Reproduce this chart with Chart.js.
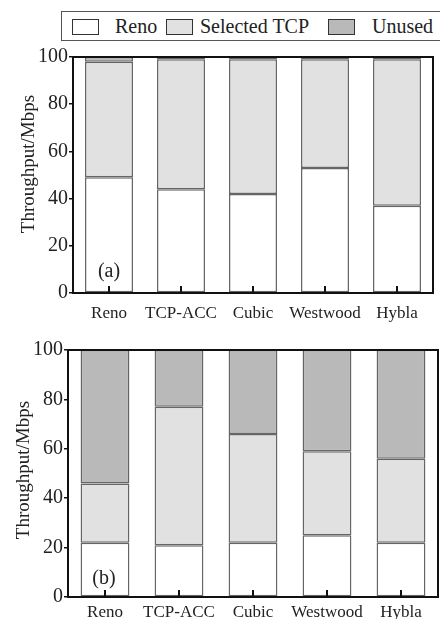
<!DOCTYPE html>
<html>
<head>
<meta charset="utf-8">
<script src="https://cdn.jsdelivr.net/npm/chart.js@4.4.1/dist/chart.umd.min.js"></script>
<style>
  body { margin: 0; background: #fff; font-family: "Liberation Serif", "Times New Roman", Times, "DejaVu Serif", serif; color: #222; }
  #wrap { position: relative; width: 440px; height: 619px; overflow: hidden; }
  canvas { position: absolute; left: 0; }
  #legend { position: absolute; left: 61px; top: 11px; width: 400px; height: 28px; border: 1.5px solid #555; }
  .sw { position: absolute; top: 7px; width: 25px; height: 14px; border: 1px solid #333; }
  .lt { position: absolute; top: 2px; font-size: 20px; line-height: 24px; }
  .panel { position: absolute; font-size: 20px; line-height: 24px; transform: translate(-50%, -50%); }
  .ytitle { position: absolute; font-size: 19px; line-height: 24px; white-space: nowrap; transform: translate(-50%, -50%) rotate(-90deg); }
</style>
</head>
<body>
<div id="wrap">
  <canvas id="chartA" width="440" height="280" style="top:44px"></canvas>
  <canvas id="chartB" width="440" height="289" style="top:330px"></canvas>
  <div id="legend">
    <div class="sw" style="left:10px;background:#fff"></div><div class="lt" style="left:53px">Reno</div>
    <div class="sw" style="left:104px;background:#e1e1e1"></div><div class="lt" style="left:138px">Selected TCP</div>
    <div class="sw" style="left:266px;background:#b9b9b9"></div><div class="lt" style="left:310px">Unused</div>
  </div>
  <div class="ytitle" style="left:28px;top:164px">Throughput/Mbps</div>
  <div class="ytitle" style="left:23px;top:470px">Throughput/Mbps</div>
  <div class="panel" style="left:109px;top:270px">(a)</div>
  <div class="panel" style="left:104px;top:577px">(b)</div>
</div>
<script>
const categories = ['Reno', 'TCP-ACC', 'Cubic', 'Westwood', 'Hybla'];
const yTicks = [0, 20, 40, 60, 80, 100];

// (a)
const renoA = [49, 44, 42, 53, 37];
const selectedA = [49, 55, 57, 46, 62];
const unusedA = [2, 1, 1, 1, 1];

// (b)
const renoB = [22, 21, 22, 25, 22];
const selectedB = [24, 56, 44, 34, 34];
const unusedB = [54, 23, 34, 41, 44];

Chart.defaults.font.family = '"Liberation Serif", "Times New Roman", Times, "DejaVu Serif", serif';
Chart.defaults.color = '#222';

// frame around plot area + short inward ticks on the x axis
const framePlugin = {
    id: 'frame',
    afterDraw(chart) {
        const ctx = chart.ctx;
        const a = chart.chartArea;
        const x = chart.scales.x;
        ctx.save();
        ctx.strokeStyle = '#111';
        ctx.lineWidth = 2;
        ctx.strokeRect(a.left, a.top, a.right - a.left, a.bottom - a.top);
        categories.forEach((c, i) => {
            const px = Math.round(x.getPixelForTick(i));
            ctx.beginPath();
            ctx.moveTo(px, a.bottom);
            ctx.lineTo(px, a.bottom - 7);
            ctx.stroke();
        });
        ctx.restore();
    }
};

function makeChart(id, reno, selected, unused, opt) {
    const ds = (label, data, color) => ({
        label: label,
        data: data,
        backgroundColor: color,
        borderColor: '#666',
        borderWidth: 1.5,
        borderSkipped: false,
        barPercentage: opt.barPct,
        categoryPercentage: 1
    });
    return new Chart(document.getElementById(id), {
        type: 'bar',
        data: {
            labels: categories,
            datasets: [
                ds('Reno', reno, '#ffffff'),
                ds('Selected TCP', selected, '#e1e1e1'),
                ds('Unused', unused, '#b9b9b9')
            ]
        },
        options: {
            responsive: false,
            animation: false,
            layout: { padding: { top: opt.top, right: opt.right, left: 0, bottom: 0 } },
            plugins: { legend: { display: false }, tooltip: { enabled: false } },
            scales: {
                x: {
                    stacked: true,
                    grid: { display: false, drawTicks: false },
                    border: { display: false },
                    ticks: { font: { size: 17 }, padding: opt.xPad, maxRotation: 0, autoSkip: false },
                    afterFit(scale) { scale.height = opt.xHeight; }
                },
                y: {
                    stacked: true,
                    min: 0,
                    max: 100,
                    afterBuildTicks(scale) { scale.ticks = yTicks.map(v => ({ value: v })); },
                    grid: { drawOnChartArea: false, tickLength: 4, color: '#111', lineWidth: 1.5 },
                    border: { display: false },
                    ticks: { font: { size: 20 }, padding: 1 },
                    afterFit(scale) { scale.width = opt.yWidth; }
                }
            }
        },
        plugins: [framePlugin]
    });
}

makeChart('chartA', renoA, selectedA, unusedA,
    { top: 10, right: 7, xHeight: 31, yWidth: 73, xPad: 10, barPct: 0.667 });
makeChart('chartB', renoB, selectedB, unusedB,
    { top: 20, right: 2, xHeight: 22, yWidth: 68, xPad: 5, barPct: 0.66 });
</script>
</body>
</html>
